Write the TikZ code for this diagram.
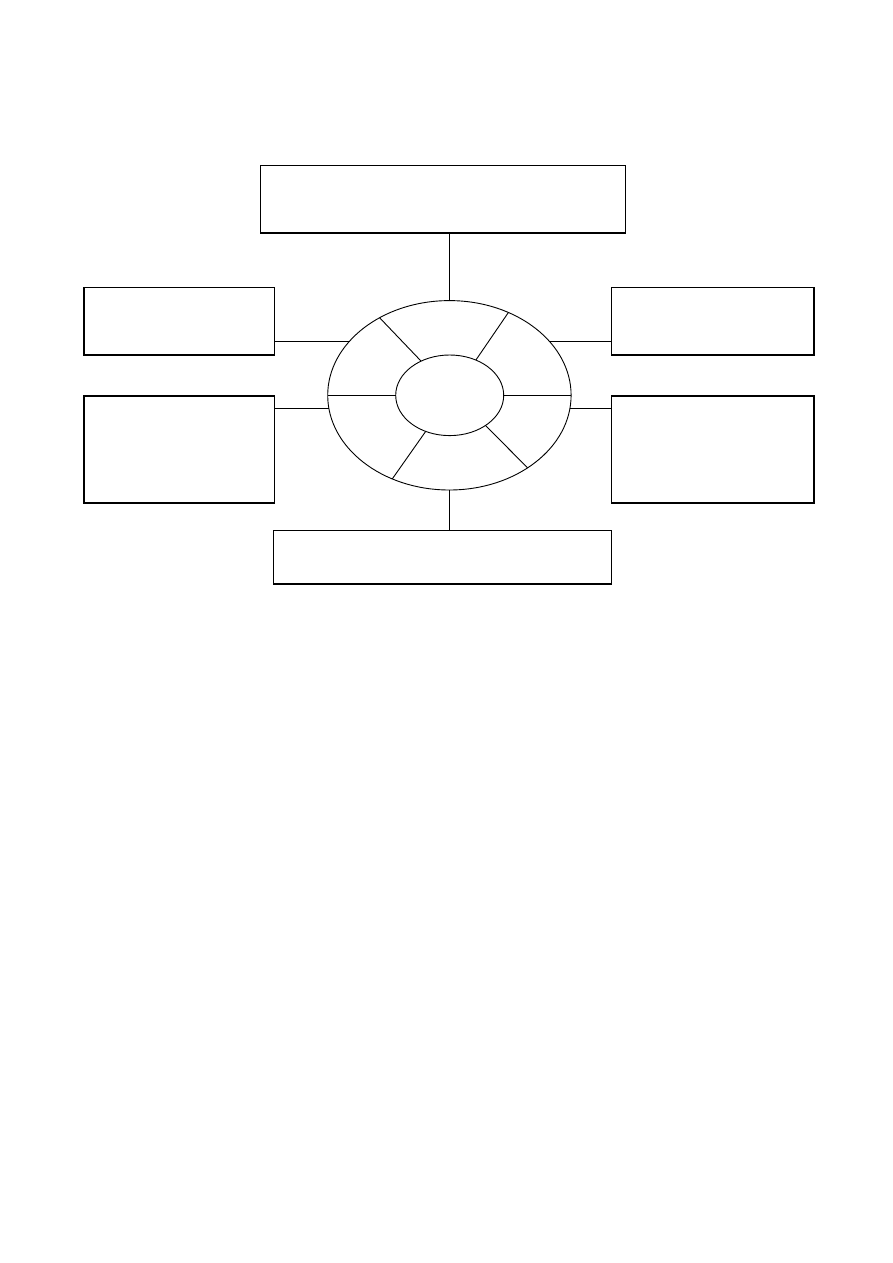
\documentclass[tikz,border=0pt]{standalone}
\usetikzlibrary{calc}
\begin{document}
\begin{tikzpicture}[x=0.66667pt,y=-0.66667pt,
  boxthick/.style={draw,rectangle,inner sep=0pt,line width=1.1pt},
  boxthin/.style={draw,rectangle,inner sep=0pt,line width=0.8pt},
  ring/.style={line width=0.6pt},
  spoke/.style={line width=0.6pt},
  linkthin/.style={line width=0.6pt},
  linkthick/.style={line width=1.1pt}]
\useasboundingbox[fill=white] (0,0) rectangle (893,1263);
% boxes
\node[boxthin,minimum width=243.6pt,minimum height=44.9pt] (top) at (443,199.35) {};
\node[boxthick,minimum width=126.7pt,minimum height=44.9pt] (lt) at (179.3,321) {};
\node[boxthick,minimum width=126.7pt,minimum height=71.7pt] (lb) at (179.3,449.5) {};
\node[boxthick,minimum width=134.9pt,minimum height=44.9pt] (rt) at (712.5,321) {};
\node[boxthick,minimum width=134.9pt,minimum height=71.7pt] (rb) at (712.5,449.5) {};
\node[boxthin,minimum width=225.3pt,minimum height=35.8pt] (bot) at (442.7,557.15) {};
% ellipses
\coordinate (c) at (449.4,395.3);
\coordinate (ci) at (449.7,395.3);
\draw[ring] (c) ellipse [x radius=121.7, y radius=94.7];
\draw[ring] (ci) ellipse [x radius=54, y radius=40.3];
% points on ellipses
\foreach \n/\t in {o0/0,o90/90,o180/180,o270/270,o125/125,o61/61,o242/242,o310/310,o145/145,o35/35,o188/188.1,o352/351.9}
  \coordinate (\n) at ($(c)+({121.7*cos(\t)},{-94.7*sin(\t)})$);
\foreach \n/\t in {i0/0,i180/180,i122/122,i61/61,i244/243.6,i311/311.5}
  \coordinate (\n) at ($(ci)+({54*cos(\t)},{-40.3*sin(\t)})$);
% spokes
\draw[spoke] (o180) -- (i180);
\draw[spoke] (i0) -- (o0);
\draw[spoke] (o125) -- (i122);
\draw[spoke] (o61) -- (i61);
\draw[spoke] (i244) -- (o242);
\draw[spoke] (i311) -- (o310);
% connectors
\draw[linkthin] (top.south -| o90) -- (o90);
\draw[linkthin] (o270) -- (bot.north -| o270);
\draw[linkthin] (lt.east |- o145) -- (o145);
\draw[linkthin] (o35) -- (rt.west |- o35);
\draw[linkthick] (lb.east |- o188) -- (o188);
\draw[linkthick] (o352) -- (rb.west |- o352);
\end{tikzpicture}
\end{document}
